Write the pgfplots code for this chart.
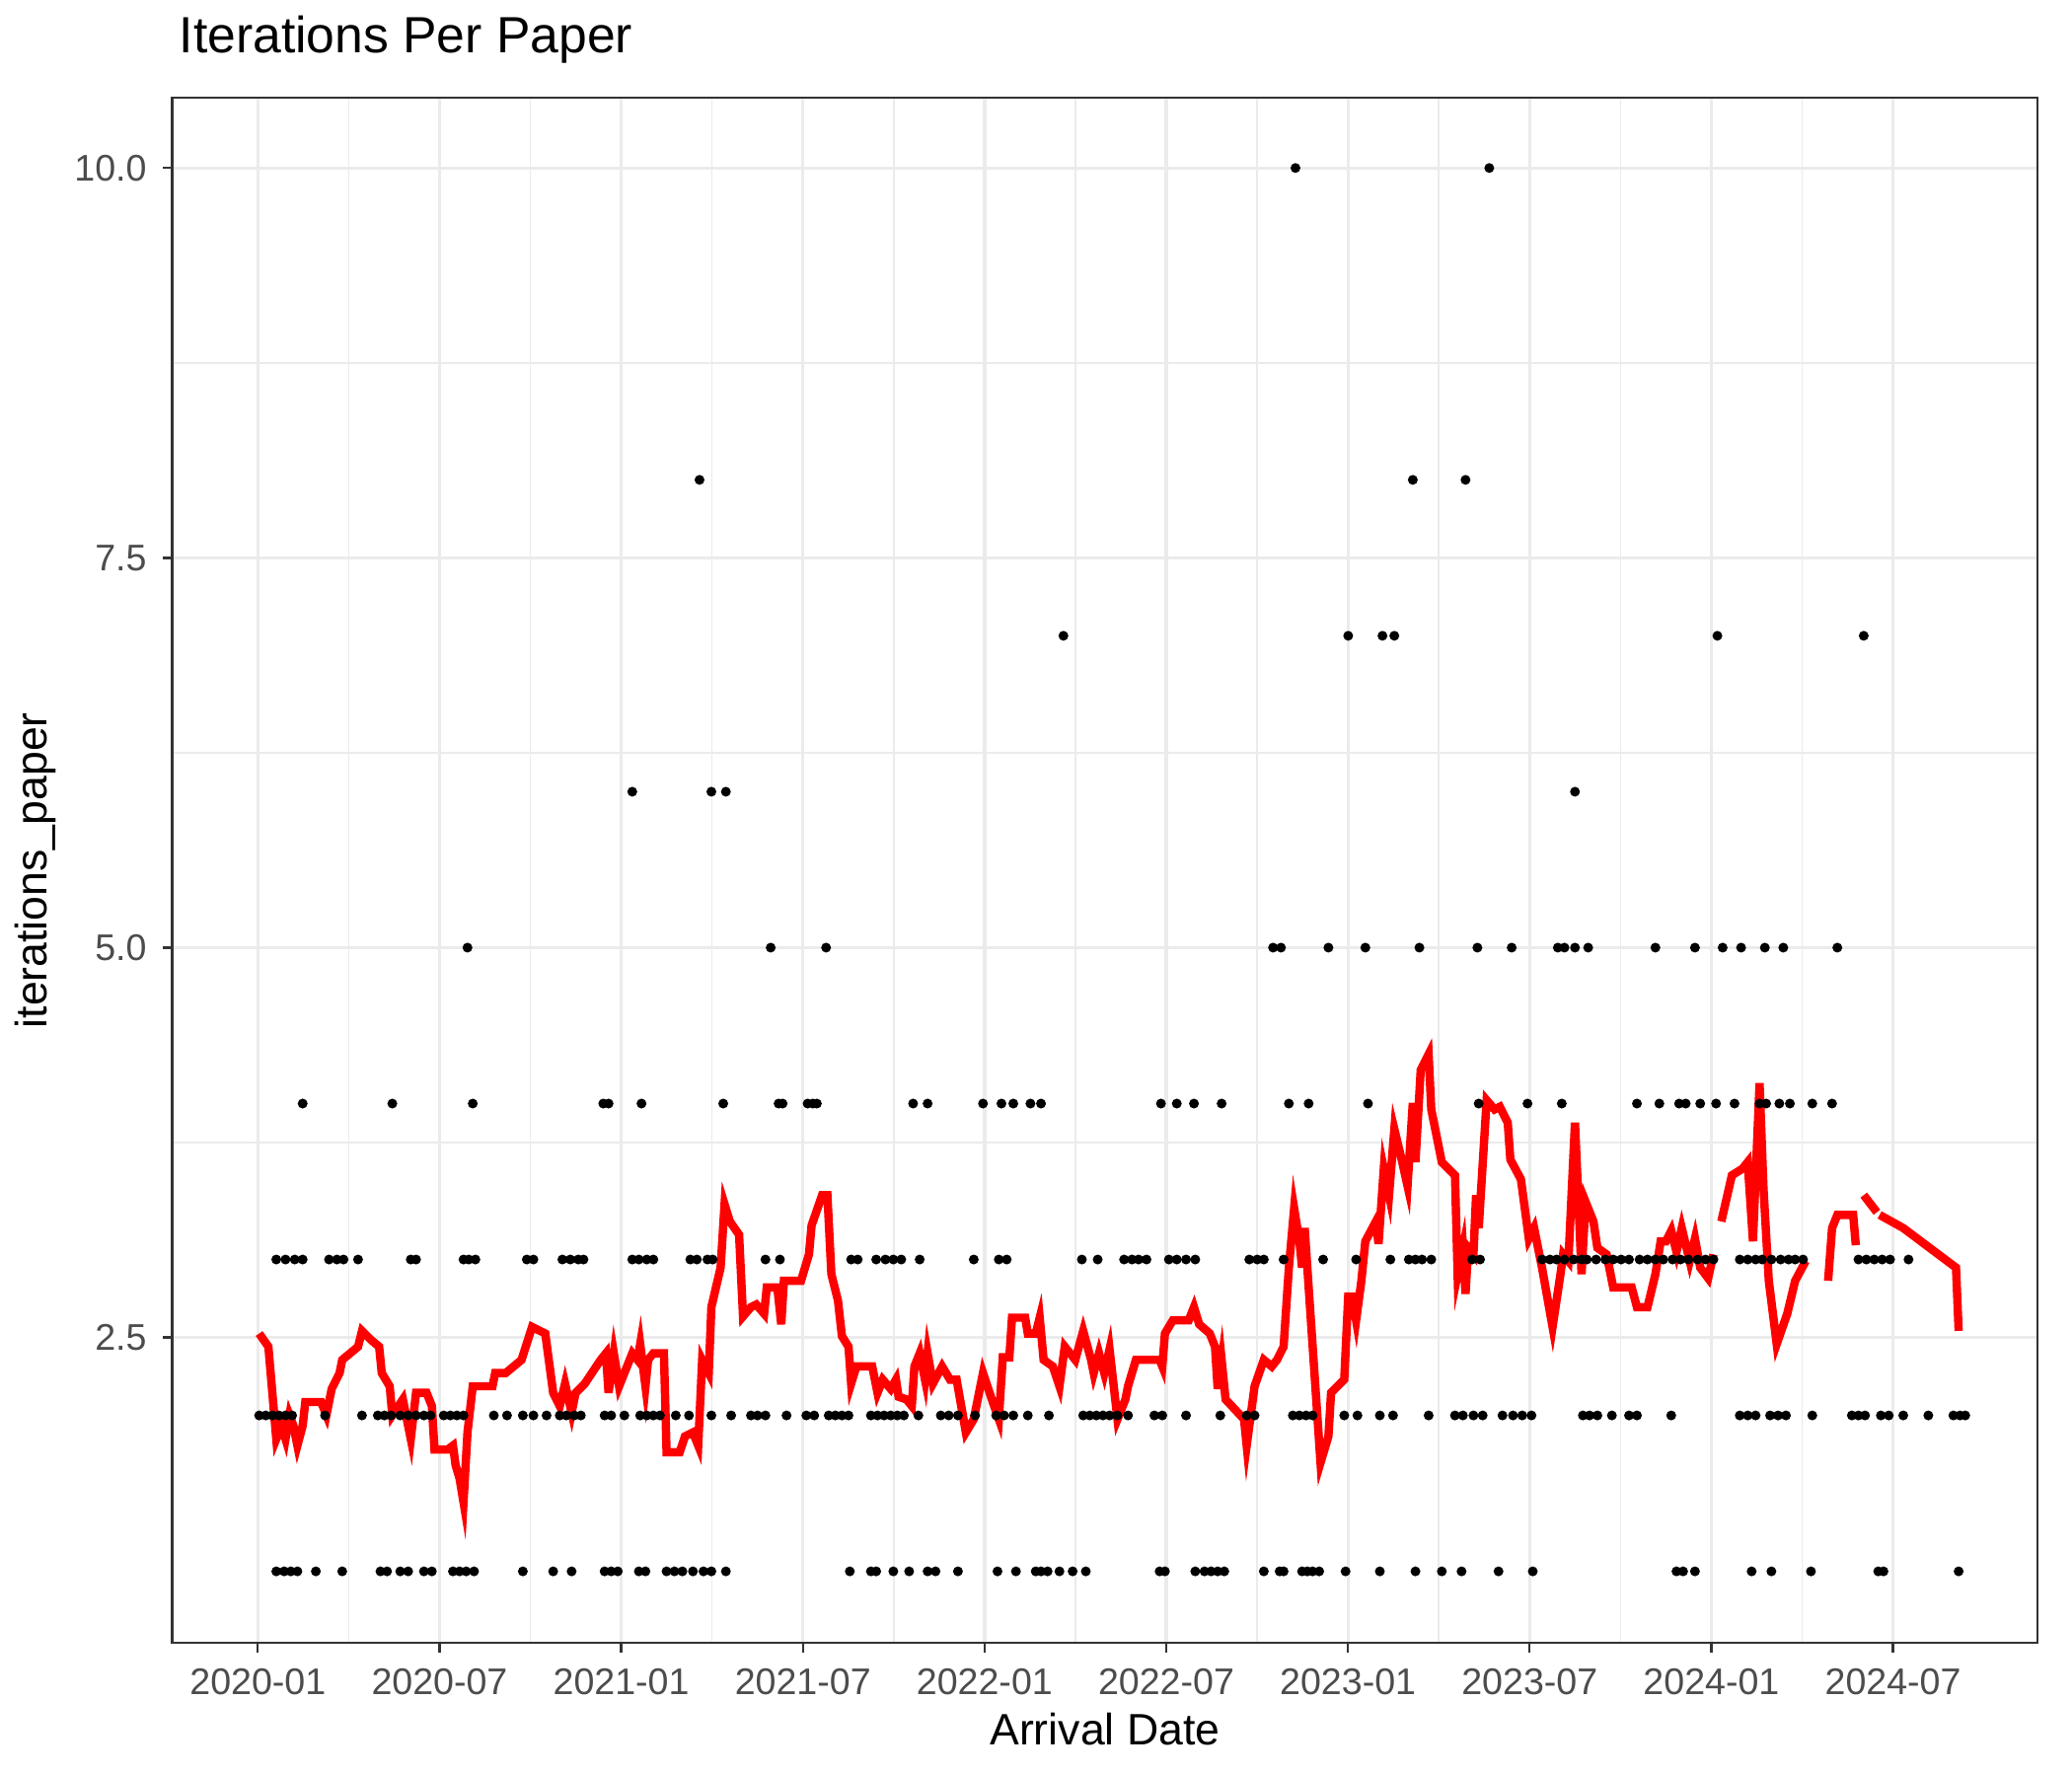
\documentclass[border=0pt]{standalone}
\usepackage{pgfplots}
\pgfplotsset{compat=1.18}
\usepackage{pgfplotstable}
\usepackage{fontspec}
\setmainfont{Liberation Sans}
\definecolor{gridc}{gray}{0.92}
\definecolor{tk}{gray}{0.30}
\definecolor{fr}{gray}{0.20}
\pgfplotstableread{
x y
193 1010
200 1020
206 1090
210 1080
213 1090
216 1072
219 1080
222 1095
226 1080
228 1062
236 1062
240 1062
244 1072
248 1052
254 1040
256 1030
262 1025
268 1020
271 1008
278 1015
284 1020
286 1040
292 1050
294 1072
298 1066
302 1060
305 1075
308 1090
312 1055
320 1055
324 1065
326 1098
336 1098
340 1095
342 1110
345 1120
348 1138
351 1085
355 1050
370 1050
372 1040
380 1040
392 1030
400 1005
410 1010
416 1055
421 1065
425 1048
430 1070
433 1055
440 1048
452 1030
456 1025
458 1055
462 1025
466 1050
472 1035
476 1025
480 1030
482 1018
486 1050
488 1030
492 1025
500 1025
502 1100
512 1100
516 1088
522 1085
526 1095
529 1030
534 1040
536 990
543 960
546 912
550 925
557 935
560 997
566 990
570 988
576 995
578 975
586 975
589 1003
591 970
604 970
610 950
612 928
620 905
624 905
627 965
632 985
635 1012
640 1020
642 1048
646 1035
658 1035
662 1055
666 1045
672 1052
676 1045
678 1058
684 1060
688 1065
690 1035
694 1025
698 1045
700 1025
704 1048
711 1035
717 1045
722 1045
729 1085
735 1075
742 1040
748 1058
754 1075
757 1028
762 1028
764 998
774 998
776 1010
782 1010
785 998
788 1030
795 1035
800 1050
804 1020
812 1030
818 1008
824 1030
826 1040
830 1025
834 1040
838 1022
844 1075
850 1060
852 1050
858 1030
876 1030
878 1035
880 1010
886 1000
898 1000
902 990
906 1003
914 1010
918 1020
920 1052
923 1030
926 1060
940 1075
942 1095
948 1050
955 1030
961 1035
965 1030
970 1020
974 960
978 915
982 940
984 960
986 930
988 960
998 1108
1004 1088
1006 1055
1016 1045
1019 982
1022 982
1025 1000
1029 970
1032 940
1040 925
1042 942
1046 885
1050 905
1054 855
1060 880
1064 898
1068 835
1070 880
1074 810
1080 798
1082 840
1090 880
1100 890
1102 965
1106 945
1108 980
1110 945
1114 950
1116 905
1118 930
1124 833
1130 840
1134 838
1140 850
1142 878
1150 893
1156 938
1160 930
1166 960
1174 1005
1180 965
1182 950
1186 955
1191 850
1196 965
1199 910
1205 925
1208 945
1215 950
1220 975
1234 975
1238 990
1246 990
1252 965
1256 940
1260 940
1264 932
1268 948
1272 930
1278 955
1282 938
1286 960
1292 968
1296 950
}\segA
\pgfplotstableread{
x y
1302 925
1310 890
1318 885
1322 880
1326 940
1331 820
1334 900
1338 970
1344 1018
1352 995
1358 970
1366 955
}\segB
\pgfplotstableread{
x y
1383 970
1386 930
1390 920
1402 920
1404 943
}\segC
\pgfplotstableread{
x y
1410 905
1420 918
}\segD
\pgfplotstableread{
x y
1422 920
1440 930
1460 945
1480 960
1482 1008
}\segE
\begin{document}
\begin{tikzpicture}
\begin{axis}[
 scale only axis, width=14.15cm, height=11.72cm,
 xmin=127, xmax=1542, ymin=0.54, ymax=10.45,
 axis line style={fr, line width=0.5pt},
 tick style={fr, line width=0.5pt},
 tick align=outside, tick pos=left, major tick length=0.07cm, minor tick length=0pt,
 xtick={192,329.8,467.6,605.4,743.2,881,1018.8,1156.6,1294.4,1432.2},
 xticklabels={2020-01,2020-07,2021-01,2021-07,2022-01,2022-07,2023-01,2023-07,2024-01,2024-07},
 minor x tick num=1,
 ytick={2.5,5,7.5,10}, yticklabels={2.5,5.0,7.5,10.0},
 minor y tick num=1,
 xmajorgrids, ymajorgrids, xminorgrids, yminorgrids,
 major grid style={draw=gridc, line width=0.7pt},
 minor grid style={draw=gridc, line width=0.35pt},
 ticklabel style={font=\fontsize{8}{9}\selectfont, text=tk},
 xlabel={Arrival Date}, ylabel={iterations\_paper},
 label style={font=\fontsize{9.5}{11}\selectfont},
 xlabel style={yshift=3pt}, ylabel style={yshift=-3pt},
 title={Iterations Per Paper}, title style={font=\fontsize{11}{13}\selectfont, anchor=south west, at={(0,1)}, xshift=-2pt, yshift=-2pt},
]
\addplot[only marks, mark=*, mark size=0.85pt, black] coordinates {
(206,1)(212,1)(217,1)(222,1)(236,1)(256,1)(285,1)(290,1)(300,1)(306,1)(318,1)(324,1)(340,1)(345,1)(350,1)(356,1)(393,1)(416,1)(430,1)(455,1)(460,1)(465,1)(481,1)(486,1)(502,1)(508,1)(514,1)(522,1)(530,1)(536,1)(547,1)(641,1)(657,1)(661,1)(674,1)(686,1)(700,1)(706,1)(723,1)(753,1)(767,1)(782,1)(786,1)(791,1)(800,1)(810,1)(820,1)(876,1)(880,1)(903,1)(910,1)(915,1)(920,1)(925,1)(955,1)(967,1)(970,1)(984,1)(988,1)(992,1)(997,1)(1017,1)(1043,1)(1070,1)(1090,1)(1105,1)(1133,1)(1159,1)(1268,1)(1273,1)(1282,1)(1325,1)(1340,1)(1370,1)(1421,1)(1425,1)(1482,1)
(193,2)(198,2)(203,2)(208,2)(213,2)(218,2)(243,2)(271,2)(283,2)(288,2)(293,2)(300,2)(306,2)(312,2)(318,2)(323,2)(333,2)(338,2)(343,2)(348,2)(371,2)(381,2)(393,2)(401,2)(411,2)(421,2)(426,2)(432,2)(437,2)(455,2)(460,2)(470,2)(482,2)(487,2)(492,2)(497,2)(509,2)(519,2)(536,2)(551,2)(566,2)(571,2)(577,2)(593,2)(608,2)(614,2)(625,2)(630,2)(635,2)(640,2)(657,2)(662,2)(667,2)(672,2)(677,2)(682,2)(693,2)(710,2)(716,2)(723,2)(736,2)(752,2)(758,2)(765,2)(776,2)(792,2)(818,2)(823,2)(828,2)(833,2)(838,2)(844,2)(852,2)(872,2)(878,2)(896,2)(922,2)(942,2)(948,2)(977,2)(982,2)(987,2)(992,2)(1016,2)(1026,2)(1043,2)(1053,2)(1080,2)(1100,2)(1106,2)(1114,2)(1121,2)(1136,2)(1144,2)(1151,2)(1158,2)(1197,2)(1202,2)(1208,2)(1219,2)(1232,2)(1238,2)(1264,2)(1316,2)(1322,2)(1328,2)(1339,2)(1345,2)(1351,2)(1371,2)(1401,2)(1406,2)(1411,2)(1423,2)(1429,2)(1440,2)(1459,2)(1478,2)(1483,2)(1487,2)
(206,3)(213,3)(220,3)(226,3)(246,3)(252,3)(257,3)(268,3)(308,3)(312,3)(348,3)(352,3)(357,3)(396,3)(401,3)(423,3)(429,3)(435,3)(439,3)(476,3)(481,3)(487,3)(492,3)(520,3)(525,3)(533,3)(537,3)(577,3)(588,3)(642,3)(647,3)(661,3)(668,3)(674,3)(680,3)(694,3)(735,3)(754,3)(760,3)(817,3)(829,3)(849,3)(855,3)(860,3)(866,3)(883,3)(889,3)(896,3)(903,3)(944,3)(950,3)(955,3)(970,3)(1000,3)(1025,3)(1051,3)(1065,3)(1070,3)(1075,3)(1082,3)(1113,3)(1119,3)(1166,3)(1172,3)(1177,3)(1183,3)(1190,3)(1196,3)(1200,3)(1207,3)(1214,3)(1220,3)(1226,3)(1232,3)(1240,3)(1246,3)(1252,3)(1258,3)(1265,3)(1271,3)(1277,3)(1284,3)(1290,3)(1296,3)(1316,3)(1322,3)(1328,3)(1333,3)(1340,3)(1347,3)(1353,3)(1358,3)(1364,3)(1406,3)(1412,3)(1418,3)(1424,3)(1430,3)(1444,3)
(226,4)(294,4)(355,4)(454,4)(458,4)(483,4)(545,4)(587,4)(590,4)(609,4)(613,4)(616,4)(689,4)(700,4)(742,4)(756,4)(765,4)(778,4)(786,4)(877,4)(889,4)(902,4)(923,4)(974,4)(989,4)(1034,4)(1118,4)(1155,4)(1181,4)(1238,4)(1255,4)(1270,4)(1275,4)(1286,4)(1298,4)(1312,4)(1331,4)(1336,4)(1346,4)(1354,4)(1371,4)(1386,4)
(351,5)(581,5)(623,5)(962,5)(968,5)(1004,5)(1032,5)(1073,5)(1117,5)(1143,5)(1178,5)(1183,5)(1191,5)(1201,5)(1252,5)(1282,5)(1303,5)(1317,5)(1335,5)(1349,5)(1390,5)
(476,6)(536,6)(547,6)(1191,6)
(803,7)(1019,7)(1045,7)(1054,7)(1299,7)(1410,7)
(527,8)(1068,8)(1108,8)
(979,10)(1126,10)
};
\addplot[red, line width=1.8pt] table[x=x, y expr=2.5+(1013-\thisrow{y})/118.3] {\segA};
\addplot[red, line width=1.8pt] table[x=x, y expr=2.5+(1013-\thisrow{y})/118.3] {\segB};
\addplot[red, line width=1.8pt] table[x=x, y expr=2.5+(1013-\thisrow{y})/118.3] {\segC};
\addplot[red, line width=1.8pt] table[x=x, y expr=2.5+(1013-\thisrow{y})/118.3] {\segD};
\addplot[red, line width=1.8pt] table[x=x, y expr=2.5+(1013-\thisrow{y})/118.3] {\segE};
\end{axis}
\path ([shift={(-1.27cm,-0.99cm)}]current axis.south west) rectangle ([shift={(0.26cm,0.73cm)}]current axis.north east);
\end{tikzpicture}
\end{document}
